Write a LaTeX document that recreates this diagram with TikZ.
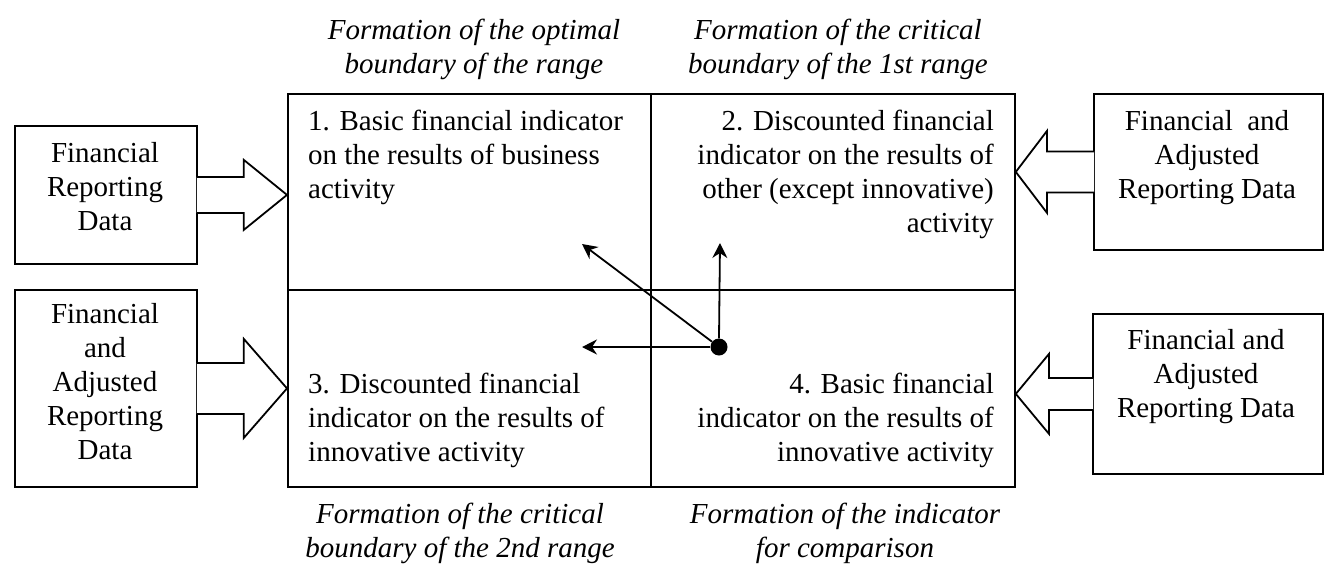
\documentclass[tikz,border=0pt]{standalone}
\usepackage{fontspec}
\setmainfont{Liberation Serif}
\usetikzlibrary{arrows.meta,calc}
\tikzset{
cell/.style={draw, line width=1.8pt, inner sep=0, anchor=north west},
src/.style={draw, line width=1.8pt, inner sep=0, anchor=north west},
blockarrow/.style={draw, fill=white, line width=1.8pt, line join=miter},
txt/.style={inner sep=0, font=\fontsize{29}{34}\selectfont},
ttl/.style={inner sep=0, font=\fontsize{29}{34}\selectfont\itshape, align=center, anchor=north},
ray/.style={line width=1.8pt, -{Stealth[length=15pt,width=15pt,inset=5pt]}}
}
\begin{document}
\begin{tikzpicture}[x=1pt, y=-1pt]
\useasboundingbox (0,0) rectangle (1324,565);
\node[cell, minimum width=363pt, minimum height=196pt] (cell1) at (287,93) {};
\node[cell, minimum width=364pt, minimum height=196pt] (cell2) at (650,93) {};
\node[cell, minimum width=363pt, minimum height=197pt] (cell3) at (287,289) {};
\node[cell, minimum width=364pt, minimum height=197pt] (cell4) at (650,289) {};

\node[src, minimum width=182pt, minimum height=138pt] (src1) at (14,125) {};
\node[src, minimum width=182pt, minimum height=197pt] (src2) at (14,289) {};
\node[src, minimum width=229pt, minimum height=156pt] (src3) at (1093,93) {};
\node[src, minimum width=230pt, minimum height=160pt] (src4) at (1092,313) {};

\draw[blockarrow] ($(src1.east)+(-1,-18)$) -- ($(src1.east)+(46,-18)$) --
      ($(src1.east)+(46,-35)$) -- (cell1.west |- src1.east) --
      ($(src1.east)+(46,35)$) -- ($(src1.east)+(46,18)$) -- ($(src1.east)+(-1,18)$);
\draw[blockarrow] ($(src2.east)+(-1,-25.5)$) -- ($(src2.east)+(46,-25.5)$) --
      ($(src2.east)+(46,-49.5)$) -- (cell3.west |- src2.east) --
      ($(src2.east)+(46,49.5)$) -- ($(src2.east)+(46,25.5)$) -- ($(src2.east)+(-1,25.5)$);
\draw[blockarrow] ($(src3.west)+(1,-20.5)$) -- ($(src3.west)+(-46,-20.5)$) --
      ($(src3.west)+(-46,-41)$) -- (cell2.east |- src3.west) --
      ($(src3.west)+(-46,41)$) -- ($(src3.west)+(-46,20.5)$) -- ($(src3.west)+(1,20.5)$);
\draw[blockarrow] ($(src4.west)+(1,-16)$) -- ($(src4.west)+(-43,-16)$) --
      ($(src4.west)+(-43,-40)$) -- (cell4.east |- src4.west) --
      ($(src4.west)+(-43,40)$) -- ($(src4.west)+(-43,16)$) -- ($(src4.west)+(1,16)$);

\node[txt, align=center, anchor=north] (lab1) at (105,142) {Financial\\Reporting\\Data};
\node[txt, align=center, anchor=north] (lab2) at (105,303) {Financial\\and\\Adjusted\\Reporting\\Data};
\node[txt, align=center, anchor=north] (lab3) at (1207,110) {Financial\ \ and\\Adjusted\\Reporting Data};
\node[txt, align=center, anchor=north] (lab4) at (1206,329) {Financial and\\Adjusted\\Reporting Data};

\node[txt, align=left, anchor=north west] (txt1) at (308,110)
  {1. Basic financial indicator\\on the results of business\\activity};
\node[txt, align=right, anchor=north east] (txt2) at (994,110)
  {2. Discounted financial\\indicator on the results of\\other (except innovative)\\activity};
\node[txt, align=left, anchor=north west] (txt3) at (308,373)
  {3. Discounted financial\\indicator on the results of\\innovative activity};
\node[txt, align=right, anchor=north east] (txt4) at (994,373)
  {4. Basic financial\\indicator on the results of\\innovative activity};

\node[ttl] (ttl1) at (474,19) {Formation of the optimal\\boundary of the range};
\node[ttl] (ttl2) at (838,19) {Formation of the critical\\boundary of the 1st range};
\node[ttl] (ttl3) at (460,503) {Formation of the critical\\boundary of the 2nd range};
\node[ttl] (ttl4) at (845,503) {Formation of the indicator\\for comparison};

\node[circle, fill, inner sep=0, minimum size=17pt] (hub) at (719,347) {};
\coordinate (toA) at (582,244);
\coordinate (toB) at (720,243);
\coordinate (toC) at (582,347);
\draw[ray] (hub) -- (toA);
\draw[ray] (hub.north) -- (toB);
\draw[ray] (hub) -- (toC);
\end{tikzpicture}
\end{document}
